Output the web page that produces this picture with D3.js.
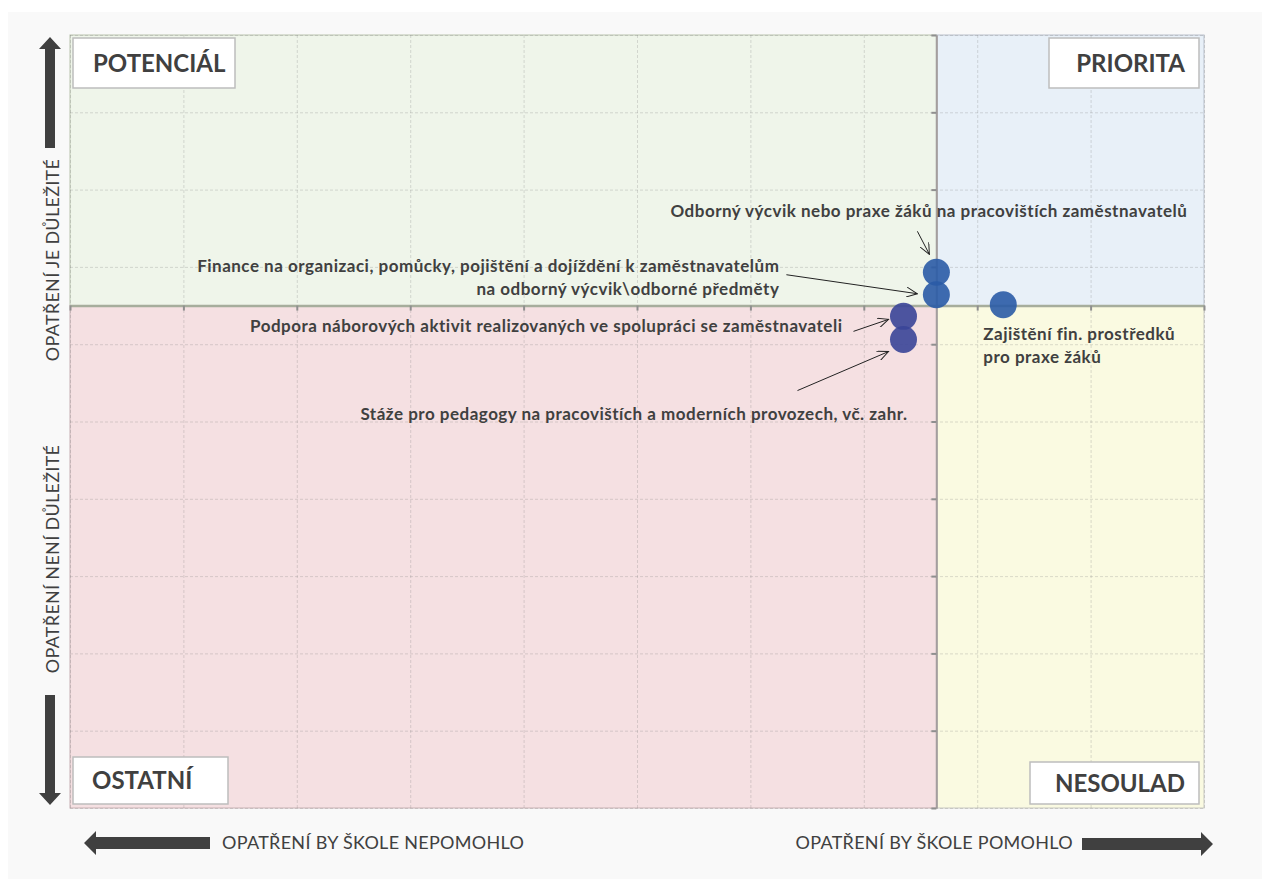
<!DOCTYPE html>
<html>
<head>
<meta charset="utf-8">
<script src="https://cdn.jsdelivr.net/npm/d3@7"></script>
<style>
  body { margin: 0; background: #ffffff; }
  svg { display: block; font-family: Lato, "Open Sans", sans-serif; }
</style>
</head>
<body>
<div id="chart"></div>
<script>
// measures (names) with their position on both axes
const measures = [
  "Odborný výcvik nebo praxe žáků na pracovištích zaměstnavatelů",
  "Finance na organizaci, pomůcky, pojištění a dojíždění k zaměstnavatelům\nna odborný výcvik\\odborné předměty",
  "Zajištění fin. prostředků\npro praxe žáků",
  "Podpora náborových aktivit realizovaných ve spolupráci se zaměstnavateli",
  "Stáže pro pedagogy na pracovištích a moderních provozech, vč. zahr."
];
const helpValues = [7.64, 7.64, 8.23, 7.35, 7.35];       // x: opatření by škole pomohlo
const importanceValues = [6.93, 6.64, 6.51, 6.36, 6.06]; // y: opatření je důležité
const xDomain = [0, 10];
const yDomain = [0, 10];
const xSplit = 7.64;
const ySplit = 6.5;
const quadrantNames = ["POTENCIÁL", "PRIORITA", "OSTATNÍ", "NESOULAD"];
const axisTexts = ["OPATŘENÍ JE DŮLEŽITÉ", "OPATŘENÍ NENÍ DŮLEŽITÉ", "OPATŘENÍ BY ŠKOLE NEPOMOHLO", "OPATŘENÍ BY ŠKOLE POMOHLO"];

// label layout, relative to the point (pixels)
const labelLayout = [
  {anchor: "end",   dx: 251, dy: -61, arrow: [-19, -41, -7, -18]},
  {anchor: "end",   dx: -157, dy: -29, arrow: [-150, -20, -19, -1]},
  {anchor: "start", dx: -20, dy: 29, arrow: null},
  {anchor: "end",   dx: -61, dy: 10, arrow: [-50, 15, -15, 3]},
  {anchor: "end",   dx: 4, dy: 74, arrow: [-106, 51, -15, 12]}
];

const W = 1269, H = 891;
const margin = {top: 35, right: 65, bottom: 83, left: 70};
const width = W - margin.left - margin.right,
      height = H - margin.top - margin.bottom;

const svg = d3.select("#chart").append("svg")
  .attr("width", W).attr("height", H);

svg.append("defs").append("marker")
  .attr("id", "open")
  .attr("viewBox", "0 0 12 10")
  .attr("refX", 11).attr("refY", 5)
  .attr("markerWidth", 12).attr("markerHeight", 10)
  .attr("markerUnits", "userSpaceOnUse")
  .attr("orient", "auto")
  .append("path")
  .attr("d", "M0,0 L11,5 L0,10")
  .attr("fill", "none").attr("stroke", "#222").attr("stroke-width", 1);

svg.append("rect")
  .attr("x", 8).attr("y", 12).attr("width", 1254).attr("height", 867)
  .attr("fill", "#f9f9f9");

const g = svg.append("g")
  .attr("transform", "translate(" + margin.left + "," + margin.top + ")");

const x = d3.scaleLinear().domain(xDomain).range([0, width]);
const y = d3.scaleLinear().domain(yDomain).range([height, 0]);

// quadrants
const quads = [
  {x0: xDomain[0], x1: xSplit, y0: ySplit, y1: yDomain[1], fill: "#eff5ea", stroke: "#b9c4ae"},
  {x0: xSplit, x1: xDomain[1], y0: ySplit, y1: yDomain[1], fill: "#e8f0f8", stroke: "#b9c0cc"},
  {x0: xDomain[0], x1: xSplit, y0: yDomain[0], y1: ySplit, fill: "#f5e0e2", stroke: "#c7b0b3"},
  {x0: xSplit, x1: xDomain[1], y0: yDomain[0], y1: ySplit, fill: "#fafae1", stroke: "#c8c8c0"}
];
g.selectAll(".quad").data(quads).enter().append("rect")
  .attr("class", "quad")
  .attr("x", d => x(d.x0)).attr("y", d => y(d.y1))
  .attr("width", d => x(d.x1) - x(d.x0))
  .attr("height", d => y(d.y0) - y(d.y1))
  .attr("fill", d => d.fill)
  .attr("stroke", d => d.stroke).attr("stroke-width", 1);

// grid
g.append("g")
  .call(d3.axisBottom(x).ticks(10).tickSize(height).tickFormat(""))
  .call(a => a.select(".domain").remove())
  .call(a => a.selectAll(".tick line").attr("stroke", "#7a7a7a").attr("stroke-opacity", 0.25).attr("stroke-dasharray", "3,2"));
g.append("g")
  .call(d3.axisLeft(y).ticks(10).tickSize(-width).tickFormat(""))
  .call(a => a.select(".domain").remove())
  .call(a => a.selectAll(".tick line").attr("stroke", "#7a7a7a").attr("stroke-opacity", 0.25).attr("stroke-dasharray", "3,2"));

// crossing axes
g.append("g")
  .attr("transform", "translate(0," + y(ySplit) + ")")
  .call(d3.axisBottom(x).ticks(10).tickSize(5).tickSizeOuter(0).tickFormat(""))
  .call(a => a.select(".domain").attr("stroke", "#a6ad9c").attr("stroke-width", 2.5))
  .call(a => a.selectAll(".tick line").attr("stroke", "#8f8f8f").attr("stroke-width", 2));
g.append("g")
  .attr("transform", "translate(" + x(xSplit) + ",0)")
  .call(d3.axisLeft(y).ticks(10).tickSize(5).tickSizeOuter(0).tickFormat(""))
  .call(a => a.select(".domain").attr("stroke", "#a49e9e").attr("stroke-width", 2))
  .call(a => a.selectAll(".tick line").attr("stroke", "#8f8f8f").attr("stroke-width", 2));

// quadrant label boxes
const boxes = [
  {name: quadrantNames[0], x: 3, y: 3, w: 162, h: 50, anchor: "start", tx: 20},
  {name: quadrantNames[1], x: width - 155, y: 3, w: 150, h: 50, anchor: "end", tx: 136},
  {name: quadrantNames[2], x: 3, y: height - 51, w: 155, h: 47, anchor: "start", tx: 19},
  {name: quadrantNames[3], x: width - 174, y: height - 46, w: 169, h: 42, anchor: "end", tx: 155}
];
const box = g.selectAll(".qbox").data(boxes).enter().append("g").attr("class", "qbox")
  .attr("transform", d => "translate(" + d.x + "," + d.y + ")");
box.append("rect")
  .attr("width", d => d.w).attr("height", d => d.h)
  .attr("fill", "#ffffff").attr("stroke", "#bdbdbd").attr("stroke-width", 1.5);
box.append("text")
  .attr("x", d => d.tx).attr("y", d => d.h / 2).attr("dy", "0.36em")
  .attr("text-anchor", d => d.anchor)
  .attr("font-size", 24).attr("font-weight", 700).attr("fill", "#404040")
  .text(d => d.name);

// points
const pts = measures.map((m, i) => ({name: m, x: helpValues[i], y: importanceValues[i], lay: labelLayout[i]}));

g.selectAll(".arrow").data(pts.filter(d => d.lay.arrow)).enter().append("line")
  .attr("class", "arrow")
  .attr("x1", d => x(d.x) + d.lay.arrow[0]).attr("y1", d => y(d.y) + d.lay.arrow[1])
  .attr("x2", d => x(d.x) + d.lay.arrow[2]).attr("y2", d => y(d.y) + d.lay.arrow[3])
  .attr("stroke", "#222").attr("stroke-width", 1)
  .attr("marker-end", "url(#open)");

g.selectAll(".pt").data(pts).enter().append("circle")
  .attr("class", "pt")
  .attr("cx", d => x(d.x)).attr("cy", d => y(d.y)).attr("r", 13.5)
  .attr("fill", d => d.y >= ySplit || d.x >= xSplit ? "#2a5ba6" : "#3a4598")
  .attr("fill-opacity", 0.9);

const lbl = g.selectAll(".lbl").data(pts).enter().append("text")
  .attr("class", "lbl")
  .attr("text-anchor", d => d.lay.anchor)
  .attr("font-size", 17).attr("font-weight", 700).attr("letter-spacing", 0.5)
  .attr("fill", "#404040");
lbl.selectAll("tspan").data(d => d.name.split("\n").map(t => ({t: t, d: d})))
  .enter().append("tspan")
  .attr("x", s => x(s.d.x) + s.d.lay.dx)
  .attr("y", (s, i) => y(s.d.y) + s.d.lay.dy + i * 23)
  .attr("dy", "0.35em")
  .text(s => s.t);

// axis captions with arrows
const cap = svg.append("g").attr("fill", "#404040").attr("font-size", 18).attr("letter-spacing", 0.3);
cap.append("text")
  .attr("transform", "translate(53," + 260 + ") rotate(-90)")
  .attr("text-anchor", "middle").attr("dy", "0.35em").text(axisTexts[0]);
cap.append("text")
  .attr("transform", "translate(53," + 559 + ") rotate(-90)")
  .attr("text-anchor", "middle").attr("dy", "0.35em").text(axisTexts[1]);
cap.append("text")
  .attr("x", 222).attr("y", 843).attr("dy", "0.35em").text(axisTexts[2]);
cap.append("text")
  .attr("x", 1073).attr("y", 843).attr("dy", "0.35em").attr("text-anchor", "end").text(axisTexts[3]);

const arrowShapes = [
  "M50,37 L61,49 L55,49 L55,148 L45,148 L45,49 L39,49 Z",
  "M50,805 L61,793 L55,793 L55,695 L45,695 L45,793 L39,793 Z",
  "M84,843 L96,831 L96,837 L210,837 L210,849 L96,849 L96,855 Z",
  "M1213,844 L1201,832 L1201,838 L1082,838 L1082,850 L1201,850 L1201,856 Z"
];
svg.selectAll(".bigarrow").data(arrowShapes).enter().append("path")
  .attr("class", "bigarrow").attr("d", d => d).attr("fill", "#404040");
</script>
</body>
</html>
